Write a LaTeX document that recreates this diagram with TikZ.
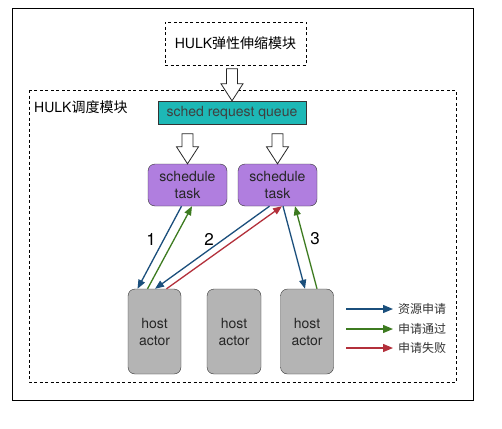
\documentclass[tikz,border=0pt]{standalone}
\usepackage{fontspec}
\setmainfont{TeX Gyre Heros}
\newfontfamily\cjk{Noto Sans CJK SC}
\usepackage[HTML]{xcolor}
\usetikzlibrary{positioning, arrows.meta}

\definecolor{queuecol}{HTML}{1DB8B6}
\definecolor{taskcol}{HTML}{B07EDF}
\definecolor{hostcol}{HTML}{B4B4B4}
\definecolor{reqblue}{HTML}{1B4F7C}
\definecolor{okgreen}{HTML}{3D7B20}
\definecolor{failred}{HTML}{B3303B}

\begin{document}
\begin{tikzpicture}[x=1pt,y=-1pt,
  font=\fontsize{14}{17}\selectfont,
  dashbox/.style={draw,dash pattern=on 3pt off 2.5pt,line width=0.8pt},
  queuebox/.style={draw=black!80,fill=queuecol,minimum width=148pt,minimum height=23pt,inner sep=0pt,text=black!75},
  taskbox/.style={draw=black!80,fill=taskcol,rounded corners=7pt,minimum width=79pt,minimum height=42pt,inner sep=0pt,align=center,text=black!85},
  hostbox/.style={draw=black!80,fill=hostcol,rounded corners=7pt,minimum width=53pt,minimum height=85pt,inner sep=0pt,align=center,text=black!85},
  hollow/.style={draw=black!85,fill=white,line width=0.8pt,line join=miter},
  req/.style={draw=reqblue,line width=1.3pt,-{Triangle[length=9pt,width=7pt]}},
  ok/.style={draw=okgreen,line width=1.3pt,-{Triangle[length=9pt,width=7pt]}},
  fail/.style={draw=failred,line width=1.3pt,-{Triangle[length=9pt,width=7pt]}},
  legendtext/.style={font=\cjk\fontsize{12}{14}\selectfont,anchor=west,inner sep=0pt,text=black!80},
  num/.style={font=\fontsize{17}{19}\selectfont}]
\useasboundingbox (0,0) rectangle (502,428);
\fill[white] (0,0) rectangle (502,428);
\draw[line width=0.8pt] (12,8) rectangle (473,400);

% modules
\node[dashbox,minimum width=141pt,minimum height=43pt,inner sep=0pt] (elastic) at (235.5,43.5) {HULK{\cjk 弹性伸缩模块}};
\draw[dashbox] (29,90) rectangle (456,382);
\node[anchor=west,inner sep=0pt] (schedlabel) at (34,107) {HULK{\cjk 调度模块}};

% queue and tasks
\node[queuebox] (queue) at (232,112.5) {sched request queue};
\node[taskbox] (task1) at (187.5,185) {schedule\\task};
\node[taskbox] (task2) at (277.5,185) {schedule\\task};

% hollow arrows
\foreach \tip/\sh in {queue/15,task1/13,task2/13}{
\draw[hollow] (\tip.north) -- ++(-11,-17) -- ++(5.5,0) -- ++(0,-\sh) -- ++(11,0) -- ++(0,\sh) -- ++(5.5,0) -- cycle;
}

% hosts
\node[hostbox] (host1) at (154.5,331.5) {host\\actor};
\node[hostbox,minimum width=54pt] (host2) at (234,331.5) {host\\actor};
\node[hostbox] (host3) at (307,331.5) {host\\actor};

% requests
\draw[req] ([xshift=-6pt]task1.south) -- ([xshift=-17pt]host1.north);
\draw[ok] ([xshift=-7pt]host1.north) -- ([xshift=4.5pt]task1.south);
\draw[req] ([xshift=-8pt]task2.south) -- ([xshift=0.5pt]host1.north);
\draw[fail] ([xshift=12pt]host1.north) -- ([xshift=4.5pt]task2.south);
\draw[req] ([xshift=5.5pt]task2.south) -- ([xshift=-2pt]host3.north);
\draw[ok] ([xshift=10pt]host3.north) -- ([xshift=17.5pt]task2.south);
\node[num] (n1) at (151,239) {1};
\node[num] (n2) at (209,239) {2};
\node[num] (n3) at (315,239) {3};

% legend
\coordinate (la) at (346,309);
\coordinate (lb) at (346,329);
\coordinate (lc) at (346,348);
\node[legendtext] (ta) at (398,309) {资源申请};
\node[legendtext] (tb) at (398,329) {申请通过};
\node[legendtext] (tc) at (398,348) {申请失败};
\draw[req,-{Triangle[length=10pt,width=8pt]},shorten >=5pt] (la) -- (ta.west);
\draw[ok,-{Triangle[length=10pt,width=8pt]},shorten >=5pt] (lb) -- (tb.west);
\draw[fail,-{Triangle[length=10pt,width=8pt]},shorten >=5pt] (lc) -- (tc.west);
\end{tikzpicture}
\end{document}
